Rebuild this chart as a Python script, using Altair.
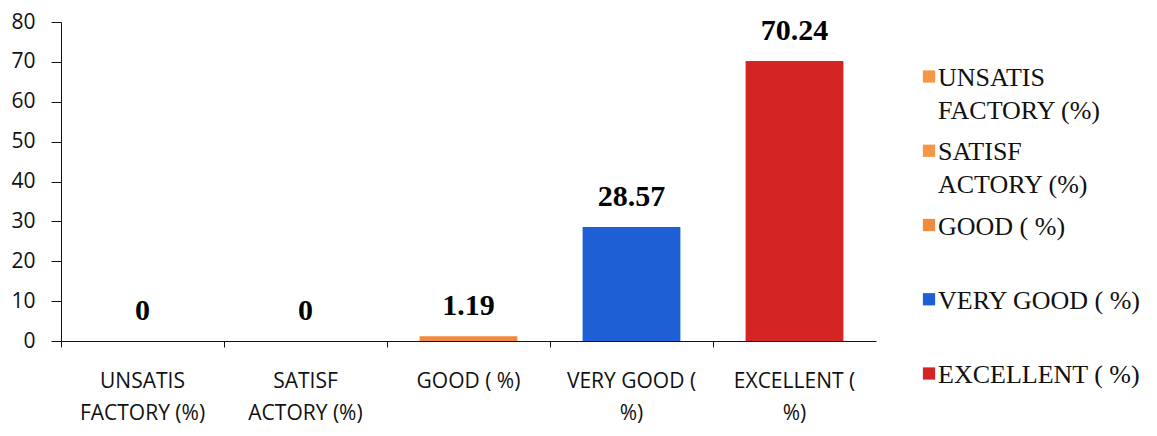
import altair as alt
import pandas as pd

categories = ["UNSATIS|FACTORY  (%)", "SATISF|ACTORY (%)", "GOOD ( %)", "VERY GOOD (|%)", "EXCELLENT (|%)"]
legend_names = ["UNSATIS|FACTORY  (%)", "SATISF|ACTORY (%)", "GOOD ( %)", "VERY GOOD ( %)", "EXCELLENT ( %)"]
values = [0, 0, 1.19, 28.57, 70.24]
value_labels = ["0", "0", "1.19", "28.57", "70.24"]
y_ticks = [0, 10, 20, 30, 40, 50, 60, 70, 80]
colors = ["#F79646", "#F79646", "#F08A3C", "#1E5FD6", "#D42424"]

df = pd.DataFrame({"cat": categories, "legend": legend_names, "value": values, "label": value_labels})
leg_df = pd.DataFrame({"legend": legend_names})

color_scale = alt.Scale(domain=legend_names, range=colors)

x = alt.X("cat:N", sort=categories, title=None,
          scale=alt.Scale(paddingInner=0, paddingOuter=0),
          axis=alt.Axis(labelAngle=0, labelExpr="split(datum.label, '|')", labelFont="Open Sans",
                        labelFontSize=21, labelColor="#111", labelPadding=23, labelLineHeight=32,
                        bandPosition=0, tickSize=6, tickColor="#111", domainColor="#111",
                        labelLimit=250, grid=False))

y = alt.Y("value:Q", title=None,
          scale=alt.Scale(domain=[0, 80], nice=False),
          axis=alt.Axis(values=y_ticks, labelFont="Open Sans",
                        labelFontSize=21, labelColor="#111", tickSize=10, tickColor="#111",
                        domainColor="#111", labelPadding=16, grid=False, labelOverlap=False))

bars = alt.Chart(df).mark_bar(width=alt.RelativeBandSize(0.6)).encode(
    x=x,
    y=y,
    color=alt.Color("legend:N", scale=color_scale, legend=None),
)

text = alt.Chart(df).mark_text(font="Liberation Serif", fontWeight="bold", fontSize=30,
                               baseline="alphabetic", dy=-21, color="#000").encode(
    x=x,
    y=y,
    text="label:N",
)

main = (bars + text).properties(width=815, height=319)

leg_y = alt.Y("legend:N", sort=legend_names, axis=None,
              scale=alt.Scale(type="point", range=[54.5, 351.5], padding=0))

leg_sym = alt.Chart(leg_df).mark_square(size=150, opacity=1).encode(
    x=alt.value(53),
    y=leg_y,
    color=alt.Color("legend:N", scale=color_scale, legend=None),
)
leg_txt = alt.Chart(leg_df).mark_text(font="Liberation Serif", fontSize=26, align="left",
                                      baseline="alphabetic", dy=9.5, lineBreak="|", lineHeight=33,
                                      color="#111").encode(
    x=alt.value(62),
    y=leg_y,
    text="legend:N",
)
legend = (leg_sym + leg_txt).properties(width=260, height=319)

chart = alt.hconcat(main, legend, spacing=0).properties(
    padding={"left": 2, "top": 3, "right": 0, "bottom": 20},
    background="white",
).configure_view(stroke=None)

chart.save("out.html", embed_options={"renderer": "svg", "actions": False})
